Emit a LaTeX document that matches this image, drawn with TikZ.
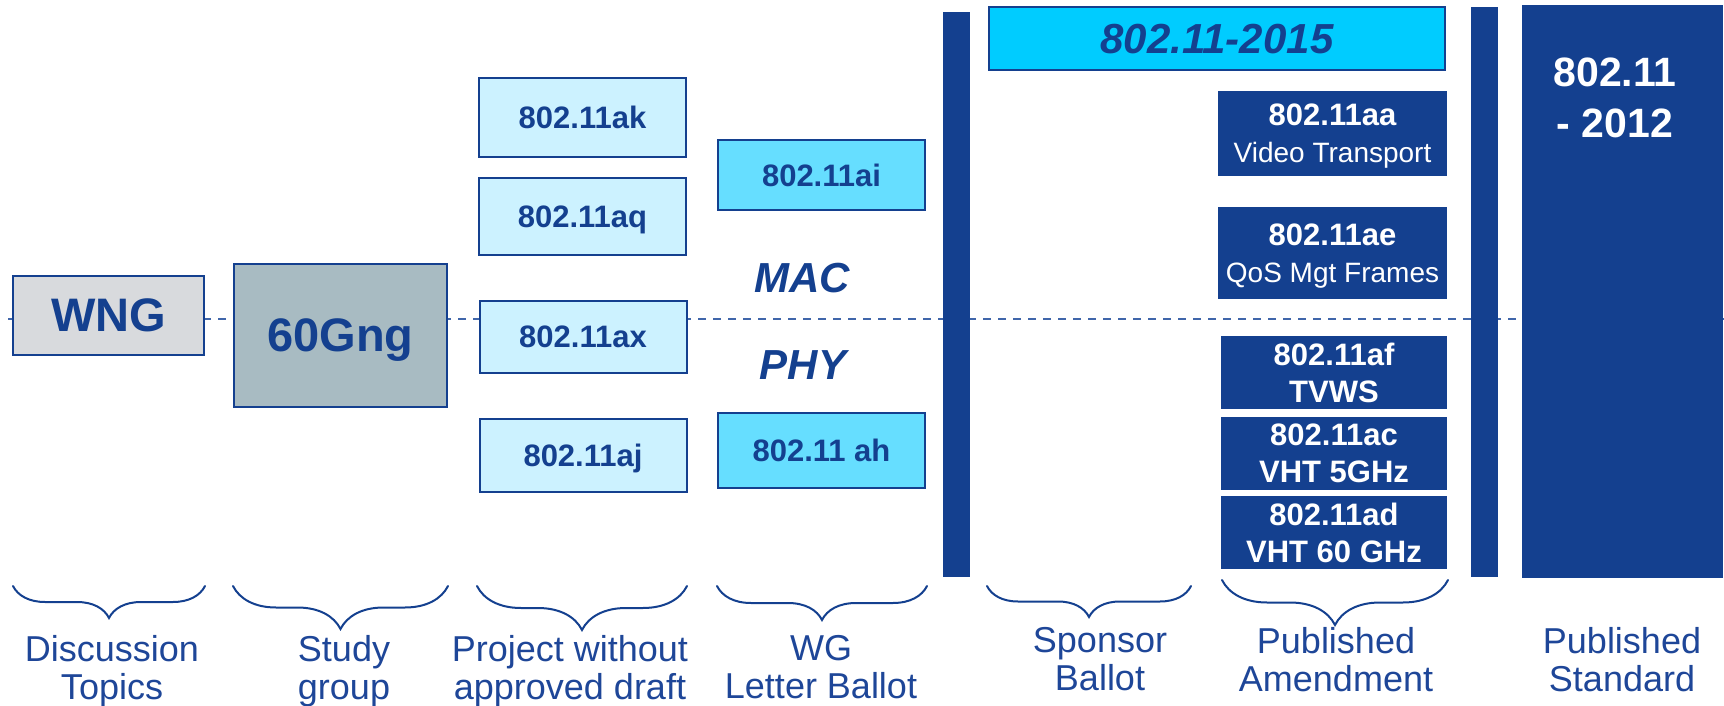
\documentclass[tikz,border=0pt]{standalone}
\usepackage{fontspec}
\setmainfont{Liberation Sans}
\usepackage{xcolor}
\usepackage{tikz}
\usetikzlibrary{shapes,positioning,decorations.pathreplacing}
\definecolor{IeeeNavy}{RGB}{20,64,143}
\definecolor{LabelBlue}{RGB}{30,70,152}
\definecolor{DashBlue}{RGB}{64,102,170}
\definecolor{PaleCyan}{RGB}{204,242,255}
\definecolor{MidCyan}{RGB}{102,222,255}
\definecolor{BrightCyan}{RGB}{0,204,255}
\definecolor{WngGray}{RGB}{216,218,221}
\definecolor{SgGray}{RGB}{168,187,194}

\begin{document}
\begin{tikzpicture}[x=1pt,y=-1pt,
    box/.style={rectangle,draw=IeeeNavy,line width=2pt,inner sep=0pt,text depth=0pt,
      text=IeeeNavy,font=\fontsize{31}{37}\selectfont\bfseries},
    draftbox/.style={box,fill=PaleCyan,minimum width=207pt},
    ballotbox/.style={box,fill=MidCyan,minimum width=207pt},
    amendbox/.style={rectangle,fill=IeeeNavy,inner sep=0pt,text depth=0pt,text=white,
      align=center,font=\fontsize{31}{37}\selectfont\bfseries},
    bar/.style={rectangle,fill=IeeeNavy,inner sep=0pt,minimum width=27pt},
    layer/.style={text=IeeeNavy,font=\fontsize{42}{50}\selectfont\bfseries\itshape},
    stage/.style={text=LabelBlue,align=center,text depth=0pt,font=\fontsize{36}{38}\selectfont},
    phase/.style={decorate,decoration={brace,mirror,amplitude=#1},draw=IeeeNavy,
      line width=2pt,line cap=round},
    divider/.style={draw=DashBlue,line width=2pt,dash pattern=on 8pt off 7pt}
  ]
    \useasboundingbox (0,0) rectangle (1724,706);

    % MAC / PHY dividing line, drawn first so the boxes cover it
    \coordinate (midwest) at (8,319);
    \coordinate (mideast) at (1724,319);
    \draw[divider] (midwest) -- (mideast);

    % Early stages
    \node[box,fill=WngGray,minimum width=191pt,minimum height=79pt,
      font=\fontsize{47}{56}\selectfont\bfseries] (wng) at (108.5,315.5) {WNG};
    \node[box,fill=SgGray,minimum width=213pt,minimum height=143pt,
      font=\fontsize{47}{56}\selectfont\bfseries] (sg) at (340.5,335.5) {60Gng};

    % Projects without approved draft
    \node[draftbox,minimum height=79pt] (ak) at (582.5,117.5) {802.11ak};
    \node[draftbox,minimum height=77pt] (aq) at (582.5,216.5) {802.11aq};
    \node[draftbox,minimum height=72pt] (ax) at (583,337) {802.11ax};
    \node[draftbox,minimum height=73pt] (aj) at (583,455.5) {802.11aj};

    % WG letter ballot
    \node[ballotbox,minimum height=70pt] (ai) at (821.5,175) {802.11ai};
    \node[ballotbox,minimum height=75pt] (ah) at (821.5,450.5) {802.11 ah};
    \node[layer] (mac) at (802,278) {MAC};
    \node[layer] (phy) at (803,365) {PHY};

    % Sponsor ballot and published amendments
    \node[bar,minimum height=565pt] (sbbar) at (956.5,294.5) {};
    \node[box,fill=BrightCyan,minimum width=456pt,minimum height=63pt,
      font=\fontsize{42}{50}\selectfont\bfseries\itshape] (rev) at (1217,38.5) {802.11-2015};
    \node[amendbox,minimum width=229pt,minimum height=85pt] (aa) at (1332.5,133.5)
      {802.11aa\\\mdseries\fontsize{28}{37}\selectfont Video Transport};
    \node[amendbox,minimum width=229pt,minimum height=92pt] (ae) at (1332.5,253)
      {802.11ae\\\mdseries\fontsize{28}{37}\selectfont QoS Mgt Frames};
    \node[amendbox,minimum width=226pt,minimum height=73pt] (af) at (1334,372.5) {802.11af\\TVWS};
    \node[amendbox,minimum width=226pt,minimum height=73pt] (ac) at (1334,453.5) {802.11ac\\VHT 5GHz};
    \node[amendbox,minimum width=226pt,minimum height=73pt] (ad) at (1334,532.5) {802.11ad\\VHT 60 GHz};

    % Published standard
    \node[bar,minimum height=570pt] (pubbar) at (1484.5,292) {};
    \node[bar,minimum width=201pt,minimum height=573pt] (std) at (1622.5,291.5) {};
    \node[amendbox,font=\fontsize{41}{51}\selectfont\bfseries] (stdname) at (1615,98) {802.11\\- 2012};

    % Braces over the stage names
    \draw[phase=32] (13,586) -- (205,586);
    \draw[phase=43] (233,586) -- (448,586);
    \draw[phase=44] (477,586) -- (687,586);
    \draw[phase=34] (717,586) -- (927,586);
    \draw[phase=31] (987,586) -- (1191,586);
    \draw[phase=45] (1222,580) -- (1448,580);

    % Stage names
    \node[stage] (topics) at (112,667) {Discussion\\Topics};
    \node[stage] (study) at (344,667) {Study\\group};
    \node[stage] (nodraft) at (570,667) {Project without\\approved draft};
    \node[stage] (wglb) at (821,667) {WG\\Letter Ballot};
    \node[stage] (sponsor) at (1100,659) {Sponsor\\Ballot};
    \node[stage] (pubamend) at (1336,659) {Published\\Amendment};
    \node[stage] (pubstd) at (1622,659) {Published\\Standard};
\end{tikzpicture}
\end{document}
